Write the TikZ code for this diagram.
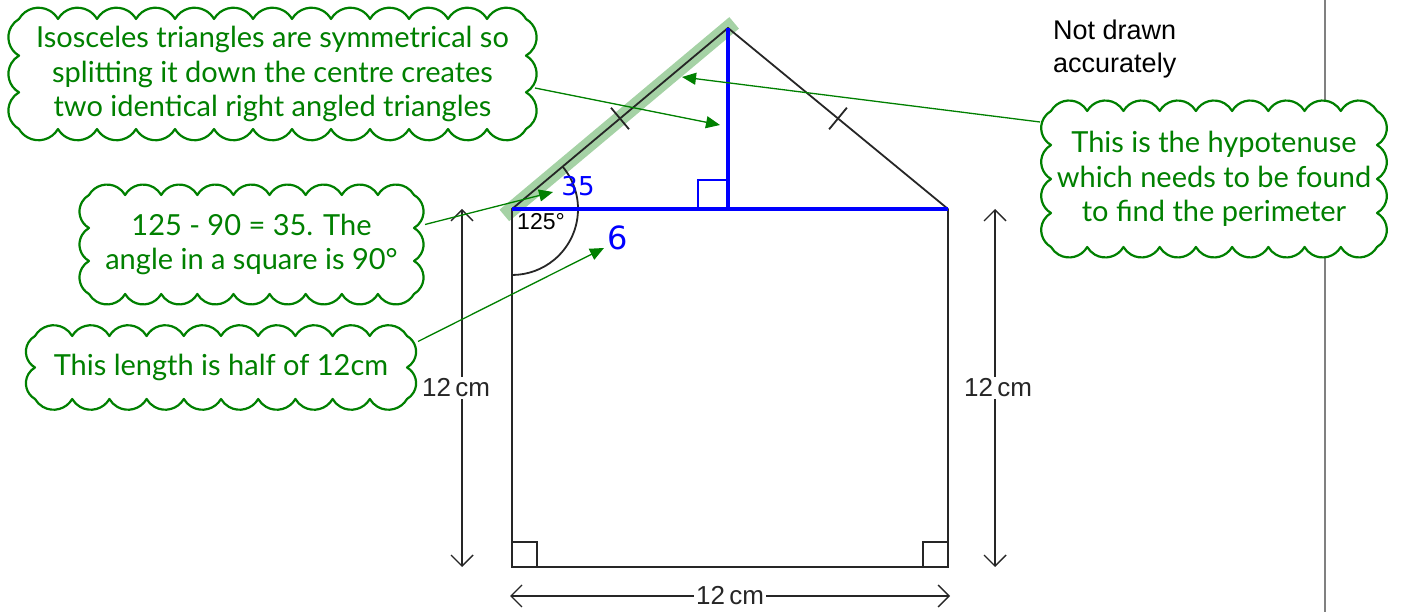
\documentclass[tikz,border=0pt]{standalone}
\usepackage{fontspec}
\setmainfont{Liberation Sans}
\newfontfamily\notefont{Lato}
\newfontfamily\handfont{DejaVu Sans}
\usetikzlibrary{arrows.meta, calc, backgrounds}
\definecolor{notegreen}{RGB}{0,128,0}
\definecolor{hlgreen}{RGB}{165,210,165}
\definecolor{splitblue}{RGB}{0,0,255}

% scalloped frame round a cloud node: node, bumps across, bumps down
\newcommand\cloudframe[3]{%
  \begin{pgfonlayer}{background}
  \draw[cloudline] let \p1=(#1.south west), \p2=(#1.north east) in (\p1)
    foreach \k in {1,...,#3} {arc[start angle=240, end angle=120, radius={(\y2-\y1)/#3/1.732}]}
    foreach \k in {1,...,#2} {arc[start angle=150, end angle=30, radius={(\x2-\x1)/#2/1.732}]}
    foreach \k in {1,...,#3} {arc[start angle=60, end angle=-60, radius={(\y2-\y1)/#3/1.732}]}
    foreach \k in {1,...,#2} {arc[start angle=-30, end angle=-150, radius={(\x2-\x1)/#2/1.732}]};
  \end{pgfonlayer}
}

\begin{document}
\begin{tikzpicture}[
    x=1pt, y=1pt,
    edge/.style={line width=1.8pt, color=black!85},
    split/.style={line width=4.5pt, color=splitblue},
    hl/.style={line width=15pt, color=hlgreen},
    dim/.style={{Straight Barb[length=11pt,width=22pt]}-{Straight Barb[length=11pt,width=22pt]}, line width=1.4pt, color=black!85},
    dimtext/.style={font=\fontsize{26}{30}\selectfont, fill=white, inner sep=2pt},
    cloud/.style={outer sep=0pt, inner sep=0pt, text=notegreen, align=center,
        font=\notefont\fontsize{29}{34.5}\selectfont},
    cloudline/.style={draw=notegreen, fill=white, line width=2.2pt, line join=round},
    callout/.style={-{Triangle[length=14pt,width=12pt]}, line width=1.3pt, color=notegreen},
    hand/.style={text=splitblue, font=\handfont\fontsize{26}{30}\selectfont, inner sep=0pt},
]
\useasboundingbox (0,0) rectangle (1410,612);

% Margin line (behind the clouds)
\begin{scope}[on background layer]
\draw[black!50, line width=1.5pt] (1325,0) -- (1325,612);
\end{scope}

% Corners of the square and the roof
\coordinate (tl)   at (512,403);
\coordinate (tr)   at (948,403);
\coordinate (bl)   at (512,45);
\coordinate (br)   at (948,45);
\coordinate (apex) at (728,584);
\coordinate (mid)  at (728,403);

% Highlighted hypotenuse
\draw[hl] ($(tl)!-10pt!(apex)$) -- ($(apex)!-8pt!(tl)$);

% Shape outline
\draw[edge] (tr) -- (br) -- (bl) -- (tl) -- (apex) -- (tr);
\draw[edge] (bl) rectangle ++(25,25);
\draw[edge] (br) rectangle ++(-25,25);

% Equal-side ticks
\draw[edge] ($(tl)!0.5!(apex)!14pt!90:(apex)$) -- ($(tl)!0.5!(apex)!14pt!-90:(apex)$);
\draw[edge] ($(tr)!0.5!(apex)!14pt!90:(apex)$) -- ($(tr)!0.5!(apex)!14pt!-90:(apex)$);

% 125 degree angle
\draw[edge] ($(tl)+(40:66)$) arc[start angle=40, end angle=-90, radius=66];
\node[font=\fontsize{23}{26}\selectfont, inner sep=0pt] (ang) at (541,390) {125°};

% Split down the centre
\draw[split] (tl) -- (tr);
\draw[split] (apex) -- (mid);
\draw[splitblue, line width=2.4pt] ($(mid)+(-30,0)$) rectangle ($(mid)+(0,29)$);

% Handwritten values
\node[hand] (half) at (578,426) {35};
\node[hand, font=\handfont\fontsize{32}{34}\selectfont] (six) at (618,374) {6};

% Dimension arrows
\coordinate (lt) at (462,403);
\coordinate (lb) at (462,45);
\coordinate (rt) at (995,403);
\coordinate (rb) at (995,45);
\coordinate (bw) at (510,16);
\coordinate (be) at (950,16);
\draw[dim] (lt) -- (lb) node[dimtext, midway, xshift=-6pt] (lside) {12\,cm};
\draw[dim] (rt) -- (rb) node[dimtext, midway, xshift=3pt] (rside) {12\,cm};
\draw[dim] (bw) -- (be) node[dimtext, midway] (bside) {12\,cm};

\node[anchor=north west, align=left, font=\fontsize{27}{33}\selectfont, inner sep=0pt] (note) at (1053,592) {Not drawn\\accurately};

% Explanation clouds
\node[cloud, minimum width=507pt, minimum height=110pt] (iso) at (272.5,538)
    {Isosceles triangles are symmetrical so\\splitting it down the centre creates\\two identical right angled triangles};
\node[cloud, minimum width=325pt, minimum height=99pt] (sub) at (251.5,367.5)
    {125 - 90 = 35. The\\angle in a square is 90°};
\node[cloud, minimum width=372pt, minimum height=63pt] (len) at (221,244.5)
    {This length is half of 12cm};
\node[cloud, minimum width=326pt, minimum height=136pt] (hyp) at (1214,433)
    {This is the hypotenuse\\which needs to be found\\to find the perimeter};
\cloudframe{iso}{13}{3}
\cloudframe{sub}{9}{3}
\cloudframe{len}{10}{2}
\cloudframe{hyp}{9}{4}

% Callout arrows
\coordinate (isotip) at (720,487);
\coordinate (hyptip) at (682,535);
\coordinate (subtip) at (553,420);
\coordinate (lentip) at (604,364);
\draw[callout] ([shift={(9,-14)}]iso.east) -- (isotip);
\draw[callout] ([shift={(-11,57)}]hyp.west) -- (hyptip);
\draw[callout] ([shift={(11,20)}]sub.east) -- (subtip);
\draw[callout] ([shift={(11,26)}]len.east) -- (lentip);

\end{tikzpicture}
\end{document}
